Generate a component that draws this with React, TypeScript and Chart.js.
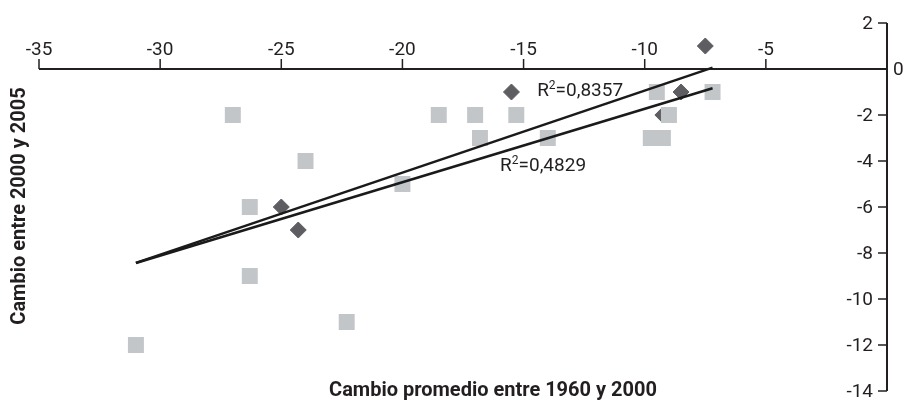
import React, { useEffect, useRef } from "react";
import { Chart, registerables } from "chart.js";

Chart.register(...registerables);

// Grey squares
const squareX = [-27, -18.5, -17, -16.8, -15.3, -14, -24, -20, -26.3, -26.3, -22.3, -31, -9.5, -7.2, -9, -9.75, -9.25];
const squareY = [-2, -2, -2, -3, -2, -3, -4, -5, -6, -9, -11, -12, -1, -1, -2, -3, -3];
// Dark diamonds
const diamondX = [-7.5, -15.5, -8.5, -9.25, -25, -24.3];
const diamondY = [1, -1, -1, -2, -6, -7];
// Trend lines (end points)
const trendDiamondX = [-31, -7.2];
const trendDiamondY = [-8.43, 0.06];
const trendSquareX = [-31, -7.2];
const trendSquareY = [-8.43, -0.84];
// Ticks
const xTicks = [-35, -30, -25, -20, -15, -10, -5];
const yTicks = [2, -2, -4, -6, -8, -10, -12, -14];
const yZeroLabel = "0";
// R² annotations
const r2Values = ["0,8357", "0,4829"];
const r2X = [-14.44, -15.97];
const r2Y = [-0.87, -4.13];
const xTitle = "Cambio promedio entre 1960 y 2000";
const yTitle = "Cambio entre 2000 y 2005";

export default function App() {
  const ref = useRef<HTMLCanvasElement>(null);
  useEffect(() => {
    document.body.style.margin = "0";
    const font = "Roboto";
    const ink = "#231f20";

    const axesPlugin = {
      id: "customAxes",
      beforeDatasetsDraw(chart: any) {
        const { ctx, scales } = chart;
        const xs = scales.x, ys = scales.y;
        const y0 = ys.getPixelForValue(0);
        const x0 = xs.getPixelForValue(0);
        ctx.save();
        ctx.strokeStyle = ink;
        ctx.lineWidth = 2;
        ctx.beginPath();
        ctx.moveTo(xs.getPixelForValue(-35), y0);
        ctx.lineTo(x0, y0);
        ctx.moveTo(x0, ys.getPixelForValue(2));
        ctx.lineTo(x0, ys.getPixelForValue(-14));
        ctx.stroke();
        ctx.lineWidth = 1.5;
        ctx.beginPath();
        for (const t of xTicks) {
          const px = xs.getPixelForValue(t);
          ctx.moveTo(px, y0);
          ctx.lineTo(px, y0 - 10);
        }
        for (const t of yTicks) {
          const py = ys.getPixelForValue(t);
          ctx.moveTo(x0, py);
          ctx.lineTo(x0 - 9, py);
        }
        ctx.stroke();
        ctx.restore();
      },
      afterDatasetsDraw(chart: any) {
        const { ctx, scales } = chart;
        const xs = scales.x, ys = scales.y;
        const y0 = ys.getPixelForValue(0);
        const x0 = xs.getPixelForValue(0);
        ctx.save();
        ctx.fillStyle = ink;
        ctx.font = `19px "${font}"`;
        ctx.textAlign = "center";
        ctx.textBaseline = "alphabetic";
        for (const t of xTicks) {
          ctx.fillText(String(t), xs.getPixelForValue(t), y0 - 14);
        }
        ctx.textAlign = "right";
        ctx.textBaseline = "middle";
        for (const t of yTicks) {
          ctx.fillText(String(t), x0 - 14, ys.getPixelForValue(t) + 1);
        }
        ctx.textAlign = "left";
        ctx.fillText(yZeroLabel, x0 + 6, y0 + 1);
        // R² labels
        for (let i = 0; i < r2Values.length; i++) {
          let px = xs.getPixelForValue(r2X[i]);
          const py = ys.getPixelForValue(r2Y[i]) + 7;
          ctx.textBaseline = "alphabetic";
          ctx.font = `19px "${font}"`;
          ctx.fillText("R", px, py);
          px += ctx.measureText("R").width;
          ctx.font = `12px "${font}"`;
          ctx.fillText("2", px, py - 7);
          px += ctx.measureText("2").width;
          ctx.font = `19px "${font}"`;
          ctx.fillText("=" + r2Values[i], px, py);
        }
        // titles
        ctx.font = `bold 20px "${font}"`;
        ctx.textAlign = "center";
        ctx.textBaseline = "middle";
        ctx.fillText(xTitle, 493, 391);
        ctx.translate(20, 206);
        ctx.rotate(-Math.PI / 2);
        ctx.fillText(yTitle, 0, 0);
        ctx.restore();
      },
    };

    const toPts = (xs: number[], ys: number[]) => xs.map((x, i) => ({ x, y: ys[i] }));

    const chart = new Chart(ref.current!, {
      type: "scatter",
      data: {
        datasets: [
          {
            type: "line",
            label: "trend diamonds",
            data: toPts(trendDiamondX, trendDiamondY),
            borderColor: "#1a1a1a",
            borderWidth: 2.6,
            pointRadius: 0,
            order: 1,
          } as any,
          {
            type: "line",
            label: "trend squares",
            data: toPts(trendSquareX, trendSquareY),
            borderColor: "#1a1a1a",
            borderWidth: 2.6,
            pointRadius: 0,
            order: 2,
          } as any,
          {
            label: "squares",
            data: toPts(squareX, squareY),
            pointStyle: "rect",
            pointRadius: 11.3,
            borderWidth: 0,
            backgroundColor: "#c3c6c9",
            borderColor: "#c3c6c9",
            order: 3,
          },
          {
            label: "diamonds",
            data: toPts(diamondX, diamondY),
            pointStyle: "rectRot",
            pointRadius: 8,
            borderWidth: 1,
            backgroundColor: "#5e5e62",
            borderColor: "#5e5e62",
            order: 4,
          },
        ],
      },
      options: {
        animation: false,
        responsive: false,
        layout: { padding: { left: 39, right: 17, top: 23, bottom: 19 } },
        plugins: { legend: { display: false }, tooltip: { enabled: false } },
        scales: {
          x: { type: "linear", min: -35, max: 0, display: false },
          y: { type: "linear", min: -14, max: 2, display: false },
        },
      },
      plugins: [axesPlugin],
    });
    return () => chart.destroy();
  }, []);
  return <canvas ref={ref} width={904} height={410} style={{ display: "block" }} />;
}
